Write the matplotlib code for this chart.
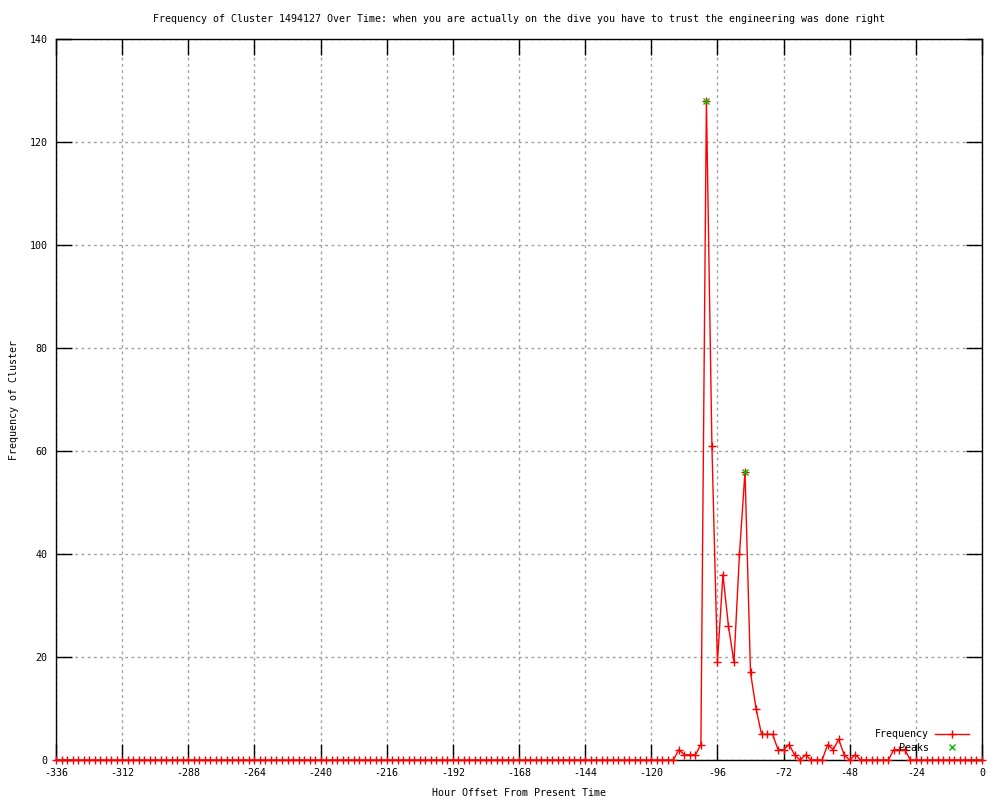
# Frequency of cluster over time (gnuplot-style)

import numpy as np
import matplotlib.pyplot as plt

# hour offsets, one sample every 2 hours
hours = np.arange(-336, 1, 2)

freq = [
    0, 0, 0, 0, 0, 0, 0, 0, 0, 0, 0, 0, 0, 0, 0, 0, 0, 0, 0, 0, 0, 0, 0, 0,   # -336 .. -290
    0, 0, 0, 0, 0, 0, 0, 0, 0, 0, 0, 0, 0, 0, 0, 0, 0, 0, 0, 0, 0, 0, 0, 0,   # -288 .. -242
    0, 0, 0, 0, 0, 0, 0, 0, 0, 0, 0, 0, 0, 0, 0, 0, 0, 0, 0, 0, 0, 0, 0, 0,   # -240 .. -194
    0, 0, 0, 0, 0, 0, 0, 0, 0, 0, 0, 0, 0, 0, 0, 0, 0, 0, 0, 0, 0, 0, 0, 0,   # -192 .. -146
    0, 0, 0, 0, 0, 0, 0, 0, 0, 0, 0, 0, 0, 0, 0, 0, 0, 2, 1, 1, 1, 3, 128, 61,  # -144 .. -98
    19, 36, 26, 19, 40, 56, 17, 10, 5, 5, 5, 2, 2, 3, 1, 0, 1, 0, 0, 0, 3, 2, 4, 1,  # -96 .. -50
    0, 1, 0, 0, 0, 0, 0, 0, 2, 2, 2, 0, 0, 0, 0, 0, 0, 0, 0, 0, 0, 0, 0, 0,   # -48 .. -2
    0,                                                                         # 0
]

peak_hours = [-100, -86]
peak_values = [128, 56]

title = ('Frequency of Cluster 1494127 Over Time: when you are actually on the dive '
         'you have to trust the engineering was done right')

plt.rcParams['font.family'] = ['DejaVu Sans Mono']
plt.rcParams['font.size'] = 7.2
plt.rcParams['axes.unicode_minus'] = False

fig = plt.figure(figsize=(10, 8), dpi=100)
ax = fig.add_axes([0.056, 0.05, 0.926, 0.90125])

ax.plot(hours, freq, color='#ff0000', linewidth=1, marker='+', markersize=6,
        markeredgewidth=1, label='Frequency', clip_on=False, zorder=3)
ax.plot(peak_hours, peak_values, linestyle='none', color='#00c000', marker='x',
        markersize=5, markeredgewidth=1, label='Peaks', zorder=4)

ax.set_xlim(-336, 0)
ax.set_ylim(0, 140)
ax.set_xticks(np.arange(-336, 1, 24))
ax.set_yticks(np.arange(0, 141, 20))

ax.grid(True, color='#a0a0a0', linestyle=(0, (2, 2.5)), linewidth=1)
ax.tick_params(direction='in', length=11.5, width=1, top=True, right=True,
               colors='black', pad=6)
for spine in ax.spines.values():
    spine.set_linewidth(1)

ax.set_title(title, fontsize=7.2, pad=12)
ax.set_xlabel('Hour Offset From Present Time', labelpad=7)
ax.set_ylabel('Frequency of Cluster', labelpad=8)

ax.legend(loc='lower right', bbox_to_anchor=(0.992, 0.002), frameon=False,
          markerfirst=False, handlelength=3.4, labelspacing=0.35,
          borderaxespad=0.2, handletextpad=0.6, fontsize=7.2)

plt.savefig('out.png', dpi=100)
